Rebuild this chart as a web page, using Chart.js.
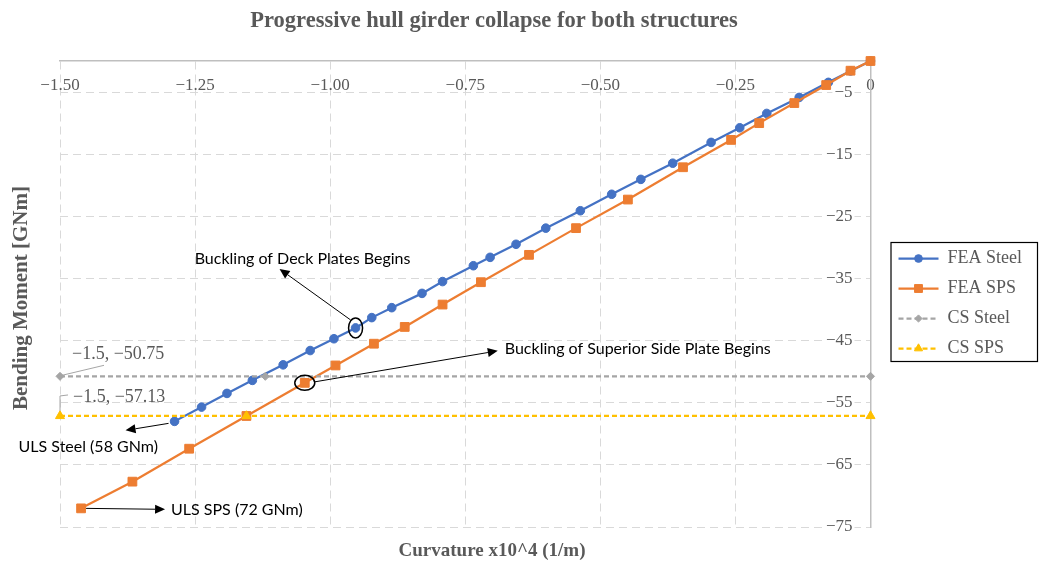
<!DOCTYPE html>
<html>
<head>
<meta charset="utf-8">
<script src="https://cdn.jsdelivr.net/npm/chart.js@4.4.1/dist/chart.umd.min.js"></script>
<style>
  html, body { margin: 0; padding: 0; background: #fff; }
  canvas { display: block; }
</style>
</head>
<body>
<canvas id="c" width="1040" height="563"></canvas>
<script>
// ---- chart text ----
const chartTitle = 'Progressive hull girder collapse for both structures';
const xTitle = 'Curvature x10^4 (1/m)';
const yTitle = 'Bending Moment [GNm]';
const seriesNames = ['FEA Steel', 'FEA SPS', 'CS Steel', 'CS SPS'];

// ---- axis ticks ----
const xTicks = [-1.5, -1.25, -1.0, -0.75, -0.5, -0.25, 0];
const xTickLabels = ['−1.50', '−1.25', '−1.00', '−0.75', '−0.50', '−0.25', '0'];
const yTicks = [-75, -65, -55, -45, -35, -25, -15, -5];
const yTickLabels = ['−75', '−65', '−55', '−45', '−35', '−25', '−15', '−5'];

// ---- FEA Steel: curvature (x10^4 1/m) and bending moment (GNm) ----
const steelCurv = [0, -0.037, -0.078, -0.132, -0.192, -0.242, -0.295, -0.366, -0.425,
  -0.479, -0.537, -0.601, -0.656, -0.704, -0.735, -0.792, -0.830, -0.886, -0.923,
  -0.953, -0.993, -1.037, -1.087, -1.144, -1.191, -1.238, -1.288];
const steelMoment = [0, -1.6, -3.44, -5.86, -8.44, -10.75, -13.1, -16.45, -19.05,
  -21.45, -24.1, -26.9, -29.5, -31.6, -32.95, -35.5, -37.4, -39.7, -41.3,
  -42.96, -44.7, -46.6, -48.9, -51.4, -53.5, -55.7, -58];

// ---- FEA SPS ----
const spsCurv = [0, -0.037, -0.082, -0.141, -0.206, -0.258, -0.347, -0.449, -0.545,
  -0.632, -0.721, -0.792, -0.862, -0.919, -0.990, -1.047, -1.155, -1.261, -1.366, -1.461];
const spsMoment = [0, -1.56, -3.87, -6.77, -10.0, -12.7, -17.1, -22.3, -26.9,
  -31.2, -35.6, -39.2, -42.8, -45.5, -49.0, -51.8, -57.13, -62.4, -67.7, -72];

// ---- CS (ultimate strength) levels ----
const csSteelCurv = [-1.5, -1.12, 0];
const csSteelMoment = [-50.75, -50.75, -50.75];
const csSpsCurv = [-1.5, -1.155, 0];
const csSpsMoment = [-57.13, -57.13, -57.13];

// ---- annotations ----
const pointLabels = ['−1.5, −50.75', '−1.5, −57.13'];
const notes = ['Buckling of Deck Plates Begins', 'Buckling of Superior Side Plate Begins',
  'ULS Steel (58 GNm)', 'ULS SPS (72 GNm)'];
const deckIndex = 19;   // FEA Steel point where deck plate buckling starts
const sideIndex = 15;   // FEA SPS point where superior side plate buckling starts

const GREY_TEXT = '#595959';
const SERIF = '"Liberation Serif", "Times New Roman", serif';
const SANS = 'Lato, "Open Sans", sans-serif';

const toXY = (xs, ys) => xs.map((x, i) => ({ x, y: ys[i] }));

const datasets = [
  { label: seriesNames[0], data: toXY(steelCurv, steelMoment), borderColor: '#4472C4',
    backgroundColor: '#4472C4', borderWidth: 2.25, pointStyle: 'circle', pointRadius: 4.3,
    pointBorderWidth: 1, order: 4 },
  { label: seriesNames[1], data: toXY(spsCurv, spsMoment), borderColor: '#ED7D31',
    backgroundColor: '#ED7D31', borderWidth: 2.25, pointStyle: 'rect', pointRadius: 6.2,
    pointBorderWidth: 1, order: 3 },
  { label: seriesNames[2], data: toXY(csSteelCurv, csSteelMoment), borderColor: '#A5A5A5',
    backgroundColor: '#A5A5A5', borderWidth: 2.25, borderDash: [5, 3], pointStyle: 'rectRot',
    pointRadius: 4, pointBorderWidth: 1, order: 2 },
  { label: seriesNames[3], data: toXY(csSpsCurv, csSpsMoment), borderColor: '#FFC000',
    backgroundColor: '#FFC000', borderWidth: 2.25, borderDash: [5, 3], pointStyle: 'triangle',
    pointRadius: 5.2, pointBorderWidth: 1, order: 1 }
];
datasets.forEach(d => { d.showLine = true; d.tension = 0; d.clip = false; d.fill = false; });

function arrow(ctx, x1, y1, x2, y2) {
  const a = Math.atan2(y2 - y1, x2 - x1);
  const len = 10, half = 4.5;
  const bx = x2 - len * Math.cos(a), by = y2 - len * Math.sin(a);
  ctx.beginPath();
  ctx.moveTo(x1, y1);
  ctx.lineTo(bx, by);
  ctx.stroke();
  ctx.beginPath();
  ctx.moveTo(x2, y2);
  ctx.lineTo(bx + half * Math.sin(a), by - half * Math.cos(a));
  ctx.lineTo(bx - half * Math.sin(a), by + half * Math.cos(a));
  ctx.closePath();
  ctx.fill();
}

const decor = {
  id: 'decor',
  beforeDraw(chart) {
    const { ctx } = chart;
    ctx.save();
    ctx.fillStyle = '#fff';
    ctx.fillRect(0, 0, chart.width, chart.height);
    ctx.restore();
  },
  afterDraw(chart) {
    const { ctx, scales: { x, y } } = chart;
    const px = v => x.getPixelForValue(v);
    const py = v => y.getPixelForValue(v);

    // titles
    ctx.save();
    ctx.fillStyle = GREY_TEXT;
    ctx.textAlign = 'center';
    ctx.textBaseline = 'middle';
    ctx.font = 'bold 22.5px ' + SERIF;
    ctx.fillText(chartTitle, 494, 21);
    ctx.font = 'bold 19px ' + SERIF;
    ctx.fillText(xTitle, 492, 551);
    ctx.font = 'bold 21px ' + SERIF;
    ctx.translate(22, 298);
    ctx.rotate(-Math.PI / 2);
    ctx.fillText(yTitle, 0, 0);
    ctx.restore();

    // data labels for the CS levels
    ctx.save();
    ctx.font = '18px ' + SERIF;
    ctx.fillStyle = GREY_TEXT;
    ctx.textBaseline = 'middle';
    ctx.strokeStyle = '#A6A6A6';
    ctx.lineWidth = 1;
    const c1x = px(csSteelCurv[0]), c1y = py(csSteelMoment[0]);
    ctx.beginPath(); ctx.moveTo(c1x + 2, c1y - 1); ctx.lineTo(c1x + 44, c1y - 11); ctx.stroke();
    ctx.fillText(pointLabels[0], c1x + 12, c1y - 22);
    const c2x = px(csSpsCurv[0]), c2y = py(csSpsMoment[0]);
    ctx.beginPath(); ctx.moveTo(c2x, c2y - 5); ctx.lineTo(c2x, c2y - 20); ctx.lineTo(c2x + 8, c2y - 21); ctx.stroke();
    ctx.fillText(pointLabels[1], c2x + 13, c2y - 19);
    ctx.restore();

    // call-outs
    ctx.save();
    ctx.strokeStyle = '#000';
    ctx.fillStyle = '#000';
    ctx.lineWidth = 1;
    ctx.font = '16px ' + SANS;
    ctx.textBaseline = 'middle';

    const dx = px(steelCurv[deckIndex]), dy = py(steelMoment[deckIndex]);
    ctx.lineWidth = 1.5;
    ctx.beginPath(); ctx.ellipse(dx, dy, 7, 10, 0, 0, Math.PI * 2); ctx.stroke();
    ctx.lineWidth = 1;
    arrow(ctx, dx - 5, dy - 8, dx - 76, dy - 59);
    ctx.textAlign = 'center';
    ctx.fillText(notes[0], dx - 53, dy - 69);

    const sx = px(spsCurv[sideIndex]), sy = py(spsMoment[sideIndex]);
    ctx.lineWidth = 1.5;
    ctx.beginPath(); ctx.ellipse(sx, sy, 10, 7.5, 0, 0, Math.PI * 2); ctx.stroke();
    ctx.lineWidth = 1;
    arrow(ctx, sx + 10, sy - 1, sx + 193, sy - 32);
    ctx.textAlign = 'left';
    ctx.fillText(notes[1], sx + 200, sy - 34);

    const ux = px(steelCurv[steelCurv.length - 1]), uy = py(steelMoment[steelMoment.length - 1]);
    arrow(ctx, ux - 6, uy + 2, ux - 49, uy + 9);
    ctx.fillText(notes[2], ux - 156, uy + 25);

    const vx = px(spsCurv[spsCurv.length - 1]), vy = py(spsMoment[spsMoment.length - 1]);
    arrow(ctx, vx + 5, vy, vx + 84, vy + 1);
    ctx.fillText(notes[3], vx + 90, vy + 1);
    ctx.restore();

    // legend symbols and frame
    const lg = chart.legend;
    if (lg && lg.legendHitBoxes && lg.legendHitBoxes.length) {
      const boxW = lg.options.labels.boxWidth;
      const fs = lg.options.labels.font.size;
      ctx.save();
      let minL = Infinity, maxR = -Infinity, minT = Infinity, maxB = -Infinity;
      lg.legendItems.forEach((item, i) => {
        const hb = lg.legendHitBoxes[i];
        const ds = chart.data.datasets[item.datasetIndex];
        const cy = hb.top + fs / 2;
        ctx.strokeStyle = ds.borderColor;
        ctx.lineWidth = ds.borderWidth;
        ctx.setLineDash(ds.borderDash || []);
        ctx.beginPath(); ctx.moveTo(hb.left, cy); ctx.lineTo(hb.left + boxW, cy); ctx.stroke();
        ctx.setLineDash([]);
        ctx.fillStyle = ds.backgroundColor;
        ctx.lineWidth = 1;
        Chart.helpers.drawPoint(ctx, { pointStyle: ds.pointStyle, radius: ds.pointRadius * 0.9,
          rotation: 0, borderWidth: 1 }, hb.left + boxW / 2, cy);
        minL = Math.min(minL, hb.left); maxR = Math.max(maxR, hb.left + hb.width);
        minT = Math.min(minT, hb.top); maxB = Math.max(maxB, hb.top + hb.height);
      });
      ctx.strokeStyle = '#000';
      ctx.lineWidth = 1.2;
      const top = minT + fs / 2 - 16, bottom = maxB - fs / 2 + 13;
      ctx.strokeRect(minL - 7.5, top, (maxR - minL) + 23, bottom - top);
      ctx.restore();
    }
  }
};

new Chart(document.getElementById('c'), {
  type: 'scatter',
  data: { datasets },
  options: {
    responsive: false,
    devicePixelRatio: 1,
    animation: false,
    layout: { padding: { top: 41, bottom: 36, left: 60, right: 8 } },
    plugins: {
      title: { display: false },
      tooltip: { enabled: false },
      legend: {
        position: 'right',
        fullSize: false,
        title: { display: true, text: '', padding: { top: 18, bottom: 0 }, font: { size: 1, lineHeight: 1 } },
        labels: {
          font: { family: SERIF, size: 18 },
          color: GREY_TEXT,
          boxWidth: 40,
          boxHeight: 0,
          padding: 12,
          sort: (a, b) => a.datasetIndex - b.datasetIndex,
          generateLabels(chart) {
            const items = Chart.defaults.plugins.legend.labels.generateLabels(chart);
            items.forEach(it => { it.fillStyle = 'rgba(0,0,0,0)'; it.strokeStyle = 'rgba(0,0,0,0)'; it.lineWidth = 0; });
            return items;
          }
        }
      }
    },
    scales: {
      x: {
        type: 'linear',
        position: 'top',
        min: -1.5,
        max: 0,
        afterBuildTicks: s => { s.ticks = xTicks.map(v => ({ value: v })); },
        afterFit: s => { s.height = 20; },
        ticks: {
          mirror: true,
          padding: 14,
          autoSkip: false,
          maxRotation: 0,
          font: { family: SERIF, size: 17 },
          color: GREY_TEXT,
          callback: v => xTickLabels[xTicks.indexOf(v)]
        },
        grid: {
          drawTicks: false,
          color: c => (c.tick && c.tick.value === 0) ? 'rgba(0,0,0,0)' : '#D9D9D9',
          lineWidth: 1
        },
        border: { display: true, color: '#BFBFBF', width: 1.5, dash: [8, 5] }
      },
      y: {
        type: 'linear',
        position: 'right',
        min: -75,
        max: 0,
        afterBuildTicks: s => { s.ticks = yTicks.map(v => ({ value: v })); },
        afterFit: s => { s.width = 16; },
        ticks: {
          mirror: true,
          padding: -18,
          font: { family: SERIF, size: 17 },
          color: GREY_TEXT,
          showLabelBackdrop: true,
          backdropColor: '#fff',
          backdropPadding: 2,
          callback: v => yTickLabels[yTicks.indexOf(v)]
        },
        grid: { drawTicks: false, color: '#D9D9D9', lineWidth: 1 },
        border: { display: true, color: '#BFBFBF', width: 1.5, dash: [8, 5] }
      }
    }
  },
  plugins: [decor]
});
</script>
</body>
</html>
